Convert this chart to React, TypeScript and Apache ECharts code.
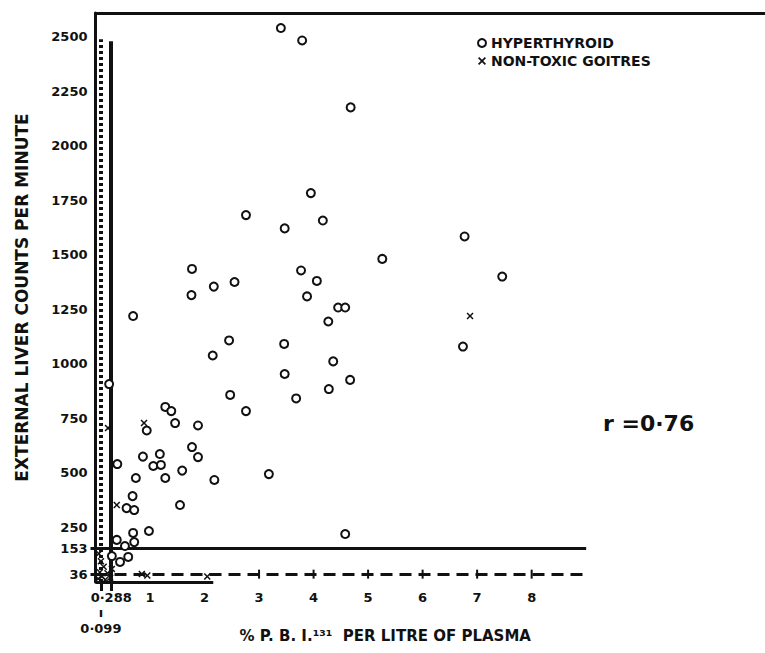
import React, { useEffect, useRef } from "react";
import * as echarts from "echarts";

// Tick labels
const yTickValues = [36, 153, 250, 500, 750, 1000, 1250, 1500, 1750, 2000, 2250, 2500];
const yTickMarks = [36, 153];
const xTickValues = [0.288, 1, 2, 3, 4, 5, 6, 7, 8];
const xTickMarks = [0.099, 0.288];
const dashLineTicks = [3, 4, 5, 6, 7, 8];

// Reference lines
const solidX = 0.288;
const dashedX = 0.099;
const solidY = 153;
const dashedY = 36;
const dashedXLabel = "0·099";

// Hyperthyroid patients: [% P.B.I.131 per litre of plasma, external liver counts per minute]
const hyperthyroid: [number, number][] = [
  [3.40, 2541], [3.79, 2484], [4.68, 2177], [3.95, 1784], [2.76, 1683],
  [4.17, 1658], [3.47, 1622], [6.77, 1585], [5.26, 1482], [1.77, 1436],
  [3.77, 1429], [4.06, 1381], [2.17, 1355], [2.55, 1376], [7.46, 1401],
  [1.76, 1316], [3.88, 1310], [4.45, 1259], [4.58, 1259], [4.27, 1195],
  [0.69, 1220], [3.46, 1092], [2.45, 1108], [2.15, 1039], [4.36, 1012],
  [6.74, 1080], [3.47, 954], [4.67, 927], [4.28, 885], [2.47, 858],
  [3.68, 842], [2.76, 784], [1.28, 803], [1.39, 784], [1.46, 729],
  [1.88, 718], [0.94, 695], [1.77, 619], [1.88, 573], [1.18, 587],
  [0.87, 575], [1.06, 532], [1.20, 537], [1.59, 511], [1.28, 477],
  [2.18, 468], [3.18, 495], [0.74, 477], [0.40, 541], [0.68, 394],
  [1.55, 353], [0.57, 339], [0.71, 330], [0.98, 234], [4.58, 220],
  [0.25, 908], [0.69, 225], [0.71, 183], [0.39, 193], [0.54, 165],
  [0.30, 119], [0.60, 115], [0.45, 92]
];

// Non-toxic goitres
const nonToxic: [number, number][] = [
  [6.87, 1220], [0.89, 729], [0.23, 706], [0.39, 353],
  [0.05, 15], [0.08, 45], [0.12, 25], [0.15, 70], [0.18, 10],
  [0.22, 40], [0.27, 20], [0.10, 95], [0.30, 60], [0.06, 130],
  [0.85, 37], [0.95, 30], [2.05, 25]
];

const FONT = "DejaVu Sans";
const INK = "#111";
const crossPath =
  "path://M0,1.5L1.5,0L5,3.5L8.5,0L10,1.5L6.5,5L10,8.5L8.5,10L5,6.5L1.5,10L0,8.5L3.5,5Z";

export default function App() {
  const ref = useRef<HTMLDivElement>(null);
  useEffect(() => {
    if (!ref.current) return;
    const chart = echarts.init(ref.current, undefined, { renderer: "svg" });
    const option: any = {
      animation: false,
      backgroundColor: "#fff",
      textStyle: { fontFamily: FONT, color: INK },
      grid: { left: 95.5, top: 13, right: 0, bottom: 71, containLabel: false },
      legend: {
        data: ["HYPERTHYROID", "NON-TOXIC GOITRES"],
        orient: "vertical",
        left: 472,
        top: 31,
        itemGap: 4,
        itemWidth: 8,
        itemHeight: 8,
        textStyle: { fontFamily: FONT, fontWeight: "bold", fontSize: 14, color: INK },
      },
      xAxis: [
        {
          type: "value",
          min: 0,
          max: 12.28,
          position: "bottom",
          splitLine: { show: false },
          axisLine: { show: false },
          axisTick: {
            show: true,
            customValues: xTickMarks,
            length: 9,
            lineStyle: { color: INK, width: 3 },
          },
          axisLabel: {
            customValues: xTickValues,
            margin: 9,
            fontFamily: FONT,
            fontWeight: "bold",
            fontSize: 13,
            color: INK,
            formatter: (v: number) => (Math.abs(v - 0.288) < 1e-6 ? "0·288" : String(v)),
          },
          name: "% P. B. I.¹³¹  PER LITRE OF PLASMA",
          nameLocation: "middle",
          nameGap: 46,
          nameTextStyle: {
            fontFamily: FONT,
            fontWeight: "bold",
            fontSize: 15,
            color: INK,
            padding: [0, 90, 0, 0],
          },
        },
        {
          type: "value",
          min: 0,
          max: 12.28,
          position: "top",
          splitLine: { show: false },
          axisLine: { show: true, lineStyle: { color: INK, width: 3 } },
          axisTick: { show: false },
          axisLabel: { show: false },
        },
      ],
      yAxis: {
        type: "value",
        min: 0,
        max: 2610,
        interval: 250,
        splitLine: { show: false },
        axisLine: { show: true, lineStyle: { color: INK, width: 3 } },
        axisTick: {
          show: true,
          customValues: yTickMarks,
          length: 5,
          lineStyle: { color: INK, width: 3 },
        },
        axisLabel: {
          customValues: yTickValues,
          margin: 8,
          fontFamily: FONT,
          fontWeight: "bold",
          fontSize: 13,
          color: INK,
          formatter: (v: number) => String(v),
        },
        name: "EXTERNAL LIVER COUNTS PER MINUTE",
        nameLocation: "middle",
        nameGap: 65,
        nameRotate: 90,
        nameTextStyle: { fontFamily: FONT, fontWeight: "bold", fontSize: 17, color: INK },
      },
      graphic: [
        {
          type: "text",
          left: 603,
          top: 412,
          style: {
            text: "r =0·76",
            fontFamily: FONT,
            fontWeight: "bold",
            fontSize: 22,
            fill: INK,
          },
        },
      ],
      series: [
        {
          name: "HYPERTHYROID",
          type: "scatter",
          data: hyperthyroid,
          symbol: "circle",
          symbolSize: 8,
          z: 5,
          itemStyle: { color: "#fff", borderColor: INK, borderWidth: 2, opacity: 1 },
          markLine: {
            silent: true,
            symbol: ["none", "none"],
            label: { show: false },
            z: 2,
            data: [
              [
                { coord: [0, solidY], lineStyle: { color: INK, width: 3, type: "solid" } },
                { coord: [9, solidY] },
              ],
              [
                { coord: [0, dashedY], lineStyle: { color: INK, width: 3, type: [12, 7] } },
                { coord: [9, dashedY] },
              ],
              [
                { coord: [solidX, 0], lineStyle: { color: INK, width: 4, type: "solid" } },
                { coord: [solidX, 2480] },
              ],
              [
                {
                  coord: [dashedX, 0],
                  lineStyle: { color: INK, width: 4, type: [3, 3] },
                  label: {
                    show: true,
                    position: "start",
                    distance: 22,
                    formatter: "ı\n" + dashedXLabel,
                    fontFamily: FONT,
                    fontWeight: "bold",
                    fontSize: 13,
                    lineHeight: 16,
                    color: INK,
                  },
                },
                { coord: [dashedX, 2490] },
              ],
              [
                { coord: [0, 0], lineStyle: { color: INK, width: 3, type: "solid" } },
                { coord: [2.16, 0] },
              ],
            ],
          },
        },
        {
          name: "NON-TOXIC GOITRES",
          type: "scatter",
          data: nonToxic,
          symbol: crossPath,
          symbolSize: 7,
          z: 6,
          itemStyle: { color: INK, opacity: 1 },
        },
        {
          name: "ticks",
          type: "scatter",
          data: dashLineTicks.map((x) => [x, dashedY]),
          symbol: "rect",
          symbolSize: [2, 9],
          silent: true,
          itemStyle: { color: INK, opacity: 1 },
        },
      ],
    };
    chart.setOption(option);
    return () => chart.dispose();
  }, []);
  return (
    <div
      ref={ref}
      style={{ position: "fixed", left: 0, top: 0, width: 765, height: 653, background: "#fff" }}
    />
  );
}
